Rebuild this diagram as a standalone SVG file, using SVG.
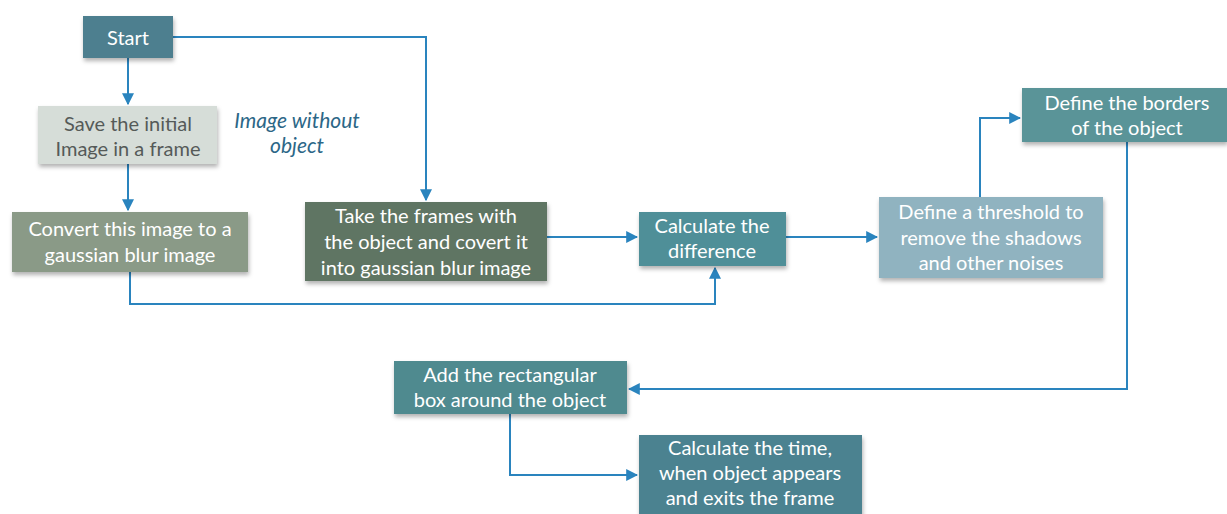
<svg xmlns="http://www.w3.org/2000/svg" width="1227" height="514" viewBox="0 0 1227 514">
<style>
.t{font-family:Lato,"Open Sans",sans-serif;font-size:20px;fill:#ffffff;text-anchor:middle}
.d{fill:#555a58}
.i{font-family:Lato,"Open Sans",sans-serif;font-size:21px;font-style:italic;fill:#2c6787;text-anchor:middle}
.c{fill:none;stroke:#2a84be;stroke-width:2}
</style>
<defs>
<filter id="sh" x="-10%" y="-20%" width="125%" height="150%">
<feDropShadow dx="1" dy="3" stdDeviation="2" flood-color="#000" flood-opacity="0.3"/>
</filter>
<marker id="ar" viewBox="0 0 10 10" refX="9" refY="5" markerWidth="6" markerHeight="6" orient="auto">
<path d="M0,0 L10,5 L0,10 z" fill="#2a84be"/>
</marker>
</defs>
<rect width="1227" height="514" fill="#ffffff"/>
<g id="connectors">
<path class="c" d="M128,58 V104" marker-end="url(#ar)"/>
<path class="c" d="M128,164 V210" marker-end="url(#ar)"/>
<path class="c" d="M173,37 H426 V200" marker-end="url(#ar)"/>
<path class="c" d="M547,237 H637" marker-end="url(#ar)"/>
<path class="c" d="M130,272 V304 H715 V268" marker-end="url(#ar)"/>
<path class="c" d="M786,237 H877" marker-end="url(#ar)"/>
<path class="c" d="M980,197 V118 H1020" marker-end="url(#ar)"/>
<path class="c" d="M1127,142 V389 H629" marker-end="url(#ar)"/>
<path class="c" d="M510,414 V475 H637" marker-end="url(#ar)"/>
</g>
<g id="start">
<rect x="83" y="16" width="90" height="42" fill="#4e7f8f" filter="url(#sh)"/>
<text class="t" x="128" y="45" font-size="22">Start</text>
</g>
<g id="save">
<rect x="38" y="106" width="179" height="58" fill="#d6ddd8" filter="url(#sh)"/>
<text class="t d" x="128" y="131">Save the initial</text>
<text class="t d" x="128" y="156">Image in a frame</text>
</g>
<g id="label-image-without-object">
<text class="i" x="297" y="128">Image without</text>
<text class="i" x="297" y="153">object</text>
</g>
<g id="convert">
<rect x="12" y="212" width="236" height="60" fill="#8a9a87" filter="url(#sh)"/>
<text class="t" x="130" y="236">Convert this image to a</text>
<text class="t" x="130" y="262">gaussian blur image</text>
</g>
<g id="take">
<rect x="305" y="202" width="242" height="79" fill="#5f7563" filter="url(#sh)"/>
<text class="t" x="426" y="223">Take the frames with</text>
<text class="t" x="426" y="249">the object and covert it</text>
<text class="t" x="426" y="275">into gaussian blur image</text>
</g>
<g id="calc-diff">
<rect x="639" y="212" width="147" height="54" fill="#4f8f98" filter="url(#sh)"/>
<text class="t" x="712" y="233">Calculate the</text>
<text class="t" x="712" y="258">difference</text>
</g>
<g id="threshold">
<rect x="879" y="197" width="224" height="81" fill="#90b3c0" filter="url(#sh)"/>
<text class="t" x="991" y="219">Define a threshold to</text>
<text class="t" x="991" y="245">remove the shadows</text>
<text class="t" x="991" y="270">and other noises</text>
</g>
<g id="borders">
<rect x="1022" y="88" width="205" height="54" fill="#5a9498" filter="url(#sh)"/>
<text class="t" x="1127" y="110">Define the borders</text>
<text class="t" x="1127" y="135">of the object</text>
</g>
<g id="add-box">
<rect x="394" y="361" width="233" height="53" fill="#4f8a8f" filter="url(#sh)"/>
<text class="t" x="510" y="382">Add the rectangular</text>
<text class="t" x="510" y="407">box around the object</text>
</g>
<g id="calc-time">
<rect x="639" y="435" width="223" height="82" fill="#4c8290" filter="url(#sh)"/>
<text class="t" x="750" y="455">Calculate the time,</text>
<text class="t" x="750" y="480">when object appears</text>
<text class="t" x="750" y="505">and exits the frame</text>
</g>
</svg>
